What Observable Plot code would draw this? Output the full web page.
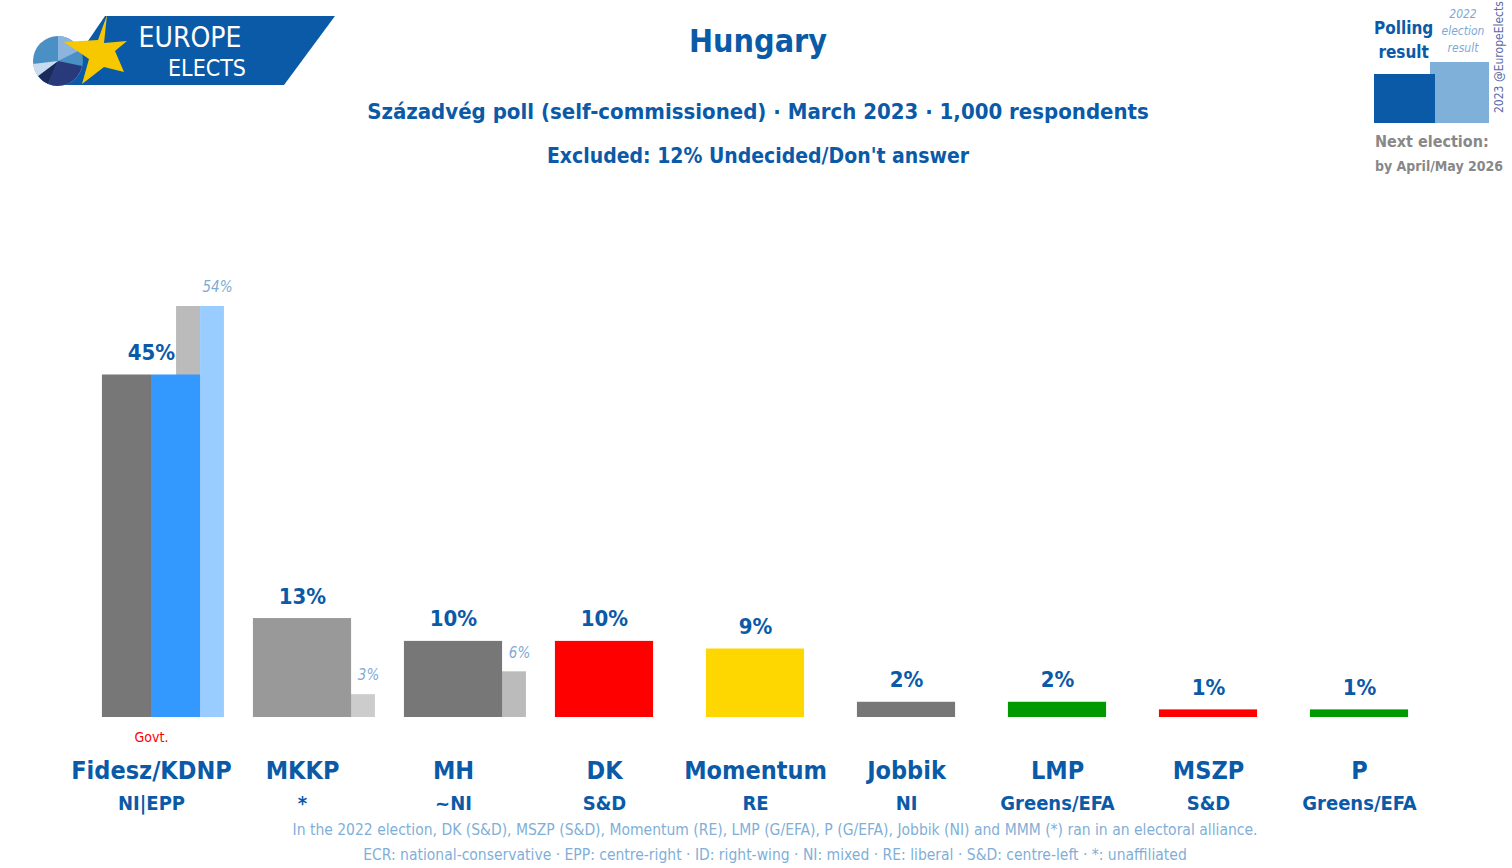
<!DOCTYPE html>
<html>
<head>
<meta charset="utf-8">
<script src="https://cdn.jsdelivr.net/npm/d3@7"></script>
<script src="https://cdn.jsdelivr.net/npm/@observablehq/plot@0.6"></script>
<style>
  body { margin: 0; background: #fff; font-family: "DejaVu Sans Condensed", "Liberation Sans Narrow", sans-serif; }
  #page { position: relative; width: 1512px; height: 868px; overflow: hidden; }
  .abs { position: absolute; white-space: nowrap; }
  .blue { color: #0a5aa8; }
  .center { transform: translateX(-50%); }
  #chart { position: absolute; left: 0; top: 260px; }
</style>
</head>
<body>
<div id="page">
  <svg class="abs" style="left:0;top:0" width="340" height="95">
    <polygon points="105,16 335,16 284,85 58,85" fill="#0a5aa8"/>
    <circle cx="58" cy="61" r="25" fill="#4a90c4"/>
    <path d="M58,61 L58,36 A25,25 0 0 1 80,50 Z" fill="#8db4dc"/>
    <path d="M58,61 L82,66 A25,25 0 0 1 48,84 Z" fill="#283a7c"/>
    <path d="M58,61 L48,84 A25,25 0 0 1 38,76 Z" fill="#1b2a5a"/>
    <path d="M58,61 L38,76 A25,25 0 0 1 33,64 Z" fill="#c9dcef"/>
    <polygon points="107,15 98,40 64,42 89,59 82,84 104,67 124,72 115,51 127,41 104,43" fill="#f7c800"/>
    <text x="190" y="47" fill="#fff" font-size="28" text-anchor="middle">EUROPE</text>
    <text x="207" y="76" fill="#fff" font-size="23" text-anchor="middle">ELECTS</text>
  </svg>

  <div class="abs center blue" style="left:758px;top:22px;font-size:32px;font-weight:bold">Hungary</div>
  <div class="abs center blue" style="left:758px;top:99px;font-size:22px;font-weight:bold">Századvég poll (self-commissioned) · March 2023 · 1,000 respondents</div>
  <div class="abs center blue" style="left:758px;top:144px;font-size:21px;font-weight:bold">Excluded: 12% Undecided/Don't answer</div>

  <div class="abs blue" style="left:1374px;top:16px;font-size:17px;font-weight:bold;line-height:24px;text-align:center">Polling<br>result</div>
  <div class="abs" style="left:1436px;top:6px;font-size:12px;font-style:italic;color:#7eaad6;line-height:17px;text-align:center;width:54px">2022<br>election<br>result</div>
  <div class="abs" style="left:1430px;top:62px;width:59px;height:61px;background:#7fb0d9"></div>
  <div class="abs" style="left:1374px;top:74px;width:61px;height:49px;background:#0a5aa8"></div>
  <div class="abs" style="left:1492px;top:113px;font-size:12px;color:#5a6aa8;transform:rotate(-90deg);transform-origin:0 0">2023 @EuropeElects</div>
  <div class="abs" style="left:1375px;top:132px;font-size:16px;font-weight:bold;color:#888">Next election:</div>
  <div class="abs" style="left:1375px;top:158px;font-size:14px;font-weight:bold;color:#888">by April/May 2026</div>

  <div id="chart"></div>

  <div class="abs center" style="left:775px;top:821px;font-size:15.5px;color:#7fafd8">In the 2022 election, DK (S&amp;D), MSZP (S&amp;D), Momentum (RE), LMP (G/EFA), P (G/EFA), Jobbik (NI) and MMM (*) ran in an electoral alliance.</div>
  <div class="abs center" style="left:775px;top:846px;font-size:15.5px;color:#7fafd8">ECR: national-conservative · EPP: centre-right · ID: right-wing · NI: mixed · RE: liberal · S&amp;D: centre-left · *: unaffiliated</div>
</div>

<script>
const parties = ["Fidesz/KDNP", "MKKP", "MH", "DK", "Momentum", "Jobbik", "LMP", "MSZP", "P"]
const groups = ["NI|EPP", "*", "~NI", "S&D", "RE", "NI", "Greens/EFA", "S&D", "Greens/EFA"]
const pollValues = [45, 13, 10, 10, 9, 2, 2, 1, 1]
const electionValues = [54, 3, 6, null, null, null, null, null, null]
const pollColors = ["#777777", "#999999", "#777777", "#ff0000", "#ffd700", "#777777", "#009900", "#ff0000", "#009900"]
const electionColors = ["#bbbbbb", "#cccccc", "#bbbbbb", null, null, null, null, null, null]
// Fidesz/KDNP bar is split: NI part grey, EPP part blue
const splitPoll = "#3399ff"
const splitElection = "#99ccff"
const govt = ["Govt.", "", "", "", "", "", "", "", ""]

// bar widths in party slots
const half = 0.325
const eLeft = 0.166
const eRight = 0.483

let pollRects = []
let electionRects = []
parties.forEach((p, i) => {
  if (i === 0) {
    pollRects.push({x1: i - half, x2: i, v: pollValues[i], fill: pollColors[i]})
    pollRects.push({x1: i, x2: i + half, v: pollValues[i], fill: splitPoll})
  } else {
    pollRects.push({x1: i - half, x2: i + half, v: pollValues[i], fill: pollColors[i]})
  }
  if (electionValues[i] != null) {
    if (i === 0) {
      electionRects.push({x1: i + eLeft, x2: i + half, v: electionValues[i], fill: electionColors[i]})
      electionRects.push({x1: i + half, x2: i + eRight, v: electionValues[i], fill: splitElection})
    } else {
      electionRects.push({x1: i + eLeft, x2: i + eRight, v: electionValues[i], fill: electionColors[i]})
    }
  }
})

let rows = parties.map((p, i) => ({i, party: p, group: groups[i], poll: pollValues[i], election: electionValues[i], govt: govt[i]}))
let electionRows = rows.filter(d => d.election != null)

const font = '"DejaVu Sans Condensed", "Liberation Sans Narrow", sans-serif'

let chart = Plot.plot({
  width: 1512,
  height: 608,
  marginTop: 46,
  marginBottom: 151,
  marginLeft: 0,
  marginRight: 0,
  x: {domain: [-0.5, 8.5], range: [75.5, 1434.5], axis: null},
  y: {domain: [0, 54], axis: null},
  marks: [
    Plot.rectY(electionRects, {x1: "x1", x2: "x2", y1: 0, y2: "v", fill: d => d.fill}),
    Plot.rectY(pollRects, {x1: "x1", x2: "x2", y1: 0, y2: "v", fill: d => d.fill}),
    Plot.text(rows, {
      x: "i", y: "poll", text: d => d.poll + "%", dy: -22,
      fontSize: 22, fontWeight: "bold", fill: "#0a5aa8"
    }),
    Plot.text(electionRows, {
      x: d => d.i + (half + eRight) / 2, y: "election", text: d => d.election + "%", dx: 5, dy: -19,
      fontSize: 15, fontStyle: "italic", fill: "#7eaad6"
    }),
    Plot.text(rows, {
      x: "i", y: 0, text: "govt", dy: 20, fontSize: 14, fill: "#ff0000"
    }),
    Plot.text(rows, {
      x: "i", y: 0, text: "party", dy: 53, fontSize: 25, fontWeight: "bold", fill: "#0a5aa8"
    }),
    Plot.text(rows, {
      x: "i", y: 0, text: "group", dy: 86, fontSize: 20, fontWeight: "bold", fill: "#0a5aa8"
    })
  ],
  style: {
    fontFamily: font,
    background: "transparent",
    overflow: "visible"
  }
})
d3.select('#chart').append(() => chart)
</script>
</body>
</html>
